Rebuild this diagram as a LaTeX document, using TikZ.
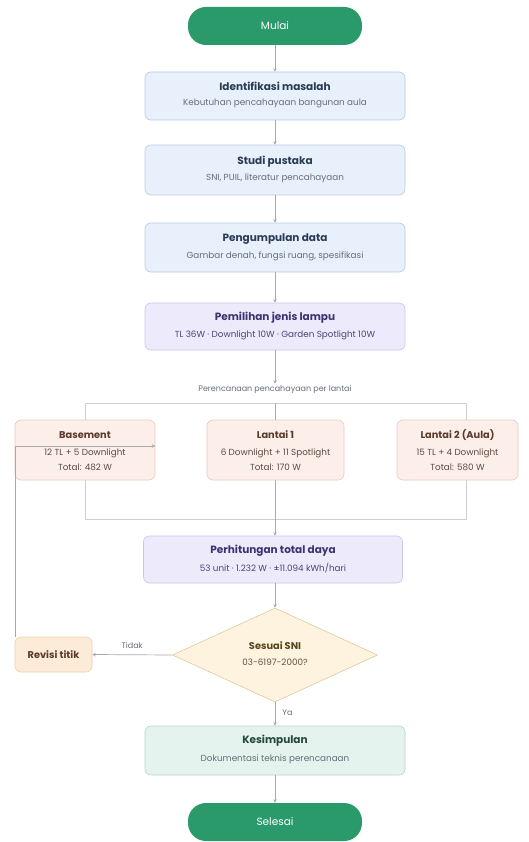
\documentclass[tikz,border=0pt]{standalone}
\usepackage{fontspec}
\setmainfont{Poppins}
\usetikzlibrary{arrows.meta,shapes.geometric}
\definecolor{pillG}{HTML}{2A9A6A}
\definecolor{blueF}{HTML}{E8F1FB}
\definecolor{blueD}{HTML}{B9CCE2}
\definecolor{blueT}{HTML}{2A3B55}
\definecolor{lavF}{HTML}{EDEBFB}
\definecolor{lavD}{HTML}{CBC6EC}
\definecolor{lavT}{HTML}{3A3470}
\definecolor{peachF}{HTML}{FCEEE8}
\definecolor{peachD}{HTML}{E9CBBE}
\definecolor{peachT}{HTML}{5A3A2C}
\definecolor{orF}{HTML}{FCEBD6}
\definecolor{orD}{HTML}{ECD2B0}
\definecolor{yelF}{HTML}{FDF3DE}
\definecolor{yelD}{HTML}{DCCB9E}
\definecolor{yelT}{HTML}{5A4620}
\definecolor{mintF}{HTML}{E4F3EE}
\definecolor{mintD}{HTML}{B4D7CA}
\definecolor{mintT}{HTML}{23473B}
\definecolor{subT}{HTML}{666E7A}
\definecolor{lineC}{HTML}{A9A9A9}
\definecolor{frameC}{HTML}{CFCFCF}
\newcommand\mytitle{\fontsize{10.5}{12}\selectfont\bfseries}
\newcommand\myftitle{\fontsize{9.8}{12}\selectfont\bfseries}
\newcommand\mysub{\fontsize{8.8}{10}\selectfont}
\begin{document}
\begin{tikzpicture}[x=1pt,y=-1pt,
  pill/.style={draw=none,fill=pillG,rounded corners=18pt,minimum width=174pt,minimum height=38pt,text=white,font=\fontsize{10.5}{12}\selectfont},
  bluebox/.style={draw=blueD,fill=blueF,rounded corners=6pt,line width=0.6pt,minimum width=260pt,minimum height=48pt},
  lavbox/.style={draw=lavD,fill=lavF,rounded corners=6pt,line width=0.6pt,minimum width=260pt,minimum height=48pt},
  peachbox/.style={draw=peachD,fill=peachF,rounded corners=6pt,line width=0.6pt,minimum height=60pt},
  orbox/.style={draw=orD,fill=orF,rounded corners=6pt,line width=0.6pt,minimum width=77pt,minimum height=35pt},
  mintbox/.style={draw=mintD,fill=mintF,rounded corners=6pt,line width=0.6pt,minimum width=260pt,minimum height=49pt},
  dec/.style={diamond,draw=yelD,fill=yelF,line width=0.6pt,minimum width=205pt,minimum height=94pt,inner sep=0pt},
  conn/.style={draw=lineC,line width=0.7pt,-{Stealth[length=3.5pt,width=3.5pt]}},
  plain/.style={draw=lineC,line width=0.7pt},
  frame/.style={draw=frameC,line width=0.7pt},
  tt/.style={font=\mytitle,inner sep=0pt},
  ft/.style={font=\myftitle,inner sep=0pt},
  st/.style={font=\mysub,text=subT,inner sep=0pt},
  lbl/.style={font=\fontsize{8}{10}\selectfont,text=subT,inner sep=1pt}
]
\useasboundingbox[fill=white] (0,0) rectangle (528,842);

% frame of subgroup
\draw[frame] (85,403) rectangle (466,519);
\coordinate (ftop) at (275,403);
\coordinate (fbot) at (275,519);
\draw[plain] (ftop) -- (fbot);

% main nodes
\node[pill] (mulai) at (275,26) {Mulai};
\node[bluebox] (ident) at (275,96) {};
\node[tt,text=blueT] (identT) at (275,86) {Identifikasi masalah};
\node[st] (identS) at (275,103.5) {Kebutuhan pencahayaan bangunan aula};

\node[bluebox,minimum height=50pt] (studi) at (275,170) {};
\node[tt,text=blueT] (studiT) at (275,162) {Studi pustaka};
\node[st] (studiS) at (275,178) {SNI, PUIL, literatur pencahayaan};

\node[bluebox,minimum height=49pt] (peng) at (275,247.5) {};
\node[tt,text=blueT] (pengT) at (275,239.5) {Pengumpulan data};
\node[st] (pengS) at (275,256.5) {Gambar denah, fungsi ruang, spesifikasi};

\node[lavbox,minimum height=47pt] (pemil) at (275,326.5) {};
\node[tt,text=lavT] (pemilT) at (275,318) {Pemilihan jenis lampu};
\node[st,text=lavT!70!subT] (pemilS) at (275,335) {TL 36W · Downlight 10W · Garden Spotlight 10W};

\node[lbl] (plabel) at (275,389) {Perencanaan pencahayaan per lantai};

% floor boxes
\node[peachbox,minimum width=140pt] (base) at (85,450) {};
\node[ft,text=peachT] (baseT) at (85,435) {Basement};
\node[st,text=peachT!70!subT] (baseS) at (85,453) {12 TL + 5 Downlight};
\node[st,text=peachT!70!subT] (baseU) at (85,467) {Total: 482 W};

\node[peachbox,minimum width=137pt] (lt1) at (275.5,450) {};
\node[ft,text=peachT] (lt1T) at (275.5,435) {Lantai 1};
\node[st,text=peachT!70!subT] (lt1S) at (275.5,453) {6 Downlight + 11 Spotlight};
\node[st,text=peachT!70!subT] (lt1U) at (275.5,467) {Total: 170 W};

\node[peachbox,minimum width=121pt] (lt2) at (457.5,450) {};
\node[ft,text=peachT] (lt2T) at (457.5,435) {Lantai 2 (Aula)};
\node[st,text=peachT!70!subT] (lt2S) at (457.5,453) {15 TL + 4 Downlight};
\node[st,text=peachT!70!subT] (lt2U) at (457.5,467) {Total: 580 W};

\node[lavbox,minimum width=259pt,minimum height=47pt] (hitung) at (273,559.5) {};
\node[tt,text=lavT] (hitungT) at (273,551) {Perhitungan total daya};
\node[st,text=lavT!70!subT] (hitungS) at (273,568) {53 unit · 1.232 W · ±11.094 kWh/hari};

\node[dec] (sni) at (275,655) {};
\node[ft,text=yelT] (sniT) at (275,646) {Sesuai SNI};
\node[st,text=yelT!70!subT] (sniS) at (275,662.5) {03-6197-2000?};

\node[orbox] (rev) at (53.5,654.5) {};
\node[ft,text=peachT] (revT) at (53.5,654.5) {Revisi titik};

\node[mintbox] (kes) at (275,750.5) {};
\node[tt,text=mintT] (kesT) at (275,741) {Kesimpulan};
\node[st] (kesS) at (275,759) {Dokumentasi teknis perencanaan};

\node[pill] (selesai) at (275,822) {Selesai};

% connectors
\draw[conn] (mulai.south) -- (ident.north);
\draw[conn] (ident.south) -- (studi.north);
\draw[conn] (studi.south) -- (peng.north);
\draw[conn] (peng.south) -- (pemil.north);
\draw[conn] (pemil.south) -- (plabel.north);
\draw[conn] (fbot) -- (hitung.north -| fbot);
\draw[conn] (hitung.south -| sni.north) -- (sni.north);
\draw[conn] (sni.west) -- node[lbl,above=5pt,pos=0.5] (tidak) {Tidak} (rev.east);
\draw[conn] (sni.south) -- node[lbl,right=6pt,pos=0.45] (ya) {Ya} (kes.north);
\draw[conn] (kes.south) -- (selesai.north);
\draw[conn] (rev.north -| 15,0) -- (15,446) -- (base.east |- 0,446);
\end{tikzpicture}
\end{document}
